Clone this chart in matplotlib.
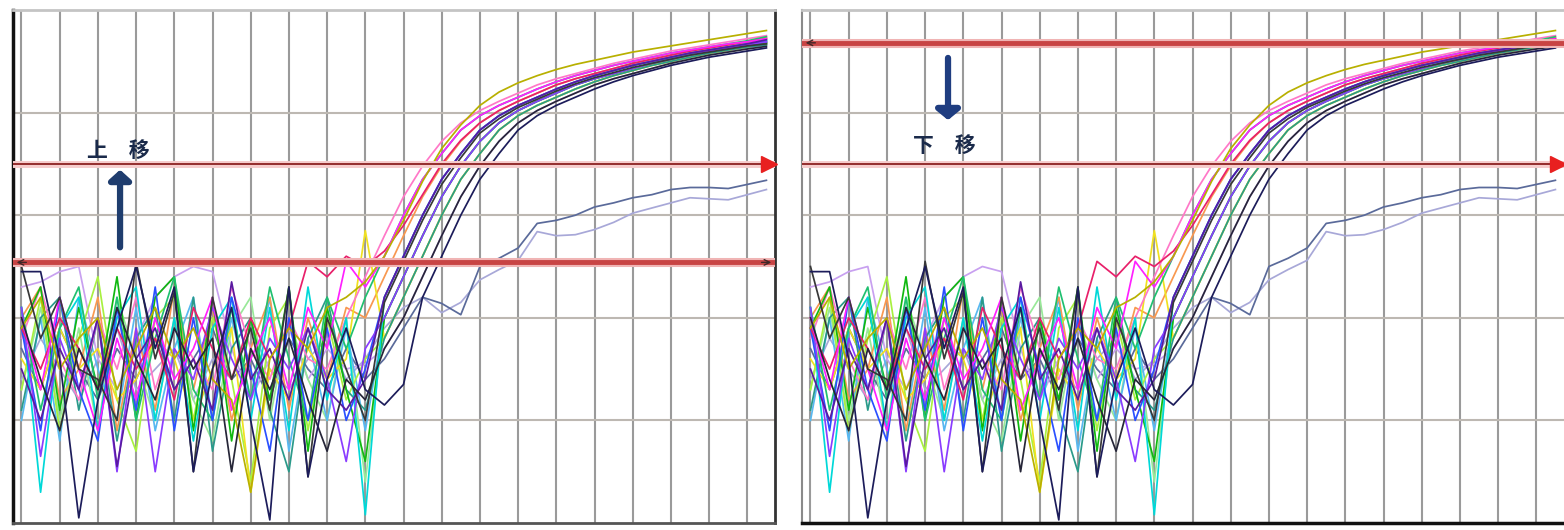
import matplotlib
matplotlib.use("Agg")
import matplotlib.pyplot as plt

plt.rcParams['font.family'] = ['Noto Sans CJK SC', 'DejaVu Sans']

# cycle numbers (x axis)
cycles = list(range(1, 41))

# amplification curves, fluorescence in grid units (0..5)
c01 = [2.45, 2.45, 1.6, 0.05, 1.2, 1.9, 2.5, 1.7, 2.3, 0.5,
       1.5, 2.1, 1.0, 0.03, 2.3, 0.45, 1.4, 1.9, 1.3, 1.15,
       1.35, 2.2, 2.6, 3.0, 3.35, 3.6, 3.83, 3.97, 4.07, 4.15,
       4.23, 4.3, 4.36, 4.41, 4.46, 4.5, 4.54, 4.57, 4.6, 4.63]
c02 = [1.9, 2.2, 1.5, 1.8, 2.0, 1.3, 1.7, 2.1, 1.6, 1.9,
       1.4, 1.2, 0.3, 1.6, 1.9, 1.7, 2.1, 2.2, 2.35, 2.6,
       2.95, 3.33, 3.65, 3.88, 4.07, 4.2, 4.29, 4.36, 4.42, 4.47,
       4.51, 4.55, 4.59, 4.62, 4.65, 4.68, 4.71, 4.74, 4.77, 4.8]
c03 = [2.0, 1.3, 2.2, 1.5, 0.9, 1.8, 1.2, 2.0, 1.4, 1.7,
       2.2, 1.1, 1.6, 2.0, 1.3, 2.1, 1.7, 2.55, 2.3, 2.6,
       3.0, 3.35, 3.6, 3.83, 3.97, 4.07, 4.15, 4.23, 4.3, 4.36,
       4.41, 4.46, 4.5, 4.54, 4.58, 4.61, 4.64, 4.67, 4.69, 4.72]
c04 = [1.9, 2.3, 1.1, 2.1, 1.3, 2.4, 1.0, 2.2, 2.4, 0.9,
       2.2, 0.8, 2.0, 1.2, 2.3, 0.7, 2.1, 1.3, 0.6, 2.0,
       2.4, 2.8, 3.18, 3.48, 3.72, 3.9, 4.02, 4.11, 4.19, 4.27,
       4.33, 4.38, 4.43, 4.48, 4.52, 4.56, 4.6, 4.63, 4.66, 4.68]
c05 = [2.1, 0.3, 1.9, 2.2, 0.9, 2.0, 2.3, 1.0, 2.0, 0.8,
       1.9, 2.2, 1.0, 2.1, 0.9, 2.3, 1.2, 2.0, 0.08, 2.2,
       2.6, 3.0, 3.35, 3.6, 3.83, 3.97, 4.07, 4.15, 4.23, 4.3,
       4.36, 4.41, 4.46, 4.5, 4.54, 4.58, 4.61, 4.64, 4.67, 4.7]
c06 = [2.1, 0.65, 1.8, 1.3, 2.0, 0.5, 1.9, 0.5, 1.7, 1.4,
       2.1, 1.6, 1.2, 1.8, 1.5, 1.9, 1.4, 0.6, 1.7, 2.0,
       2.4, 2.8, 3.18, 3.48, 3.72, 3.9, 4.02, 4.11, 4.19, 4.27,
       4.33, 4.38, 4.43, 4.48, 4.52, 4.56, 4.6, 4.63, 4.66, 4.69]
c07 = [1.8, 2.3, 1.6, 1.2, 2.0, 1.5, 2.2, 1.3, 1.9, 1.6,
       1.3, 2.3, 1.7, 1.4, 2.0, 1.6, 1.5, 2.0, 2.4, 2.8,
       3.18, 3.48, 3.72, 3.9, 4.02, 4.11, 4.19, 4.27, 4.33, 4.38,
       4.43, 4.48, 4.52, 4.56, 4.6, 4.63, 4.66, 4.69, 4.72, 4.75]
c08 = [1.3, 2.2, 0.9, 1.8, 2.4, 1.2, 0.7, 2.0, 2.2, 1.0,
       2.0, 1.4, 0.4, 1.9, 2.2, 0.9, 2.0, 1.2, 1.6, 1.8,
       2.2, 2.6, 3.0, 3.35, 3.6, 3.83, 3.97, 4.07, 4.15, 4.23,
       4.3, 4.36, 4.41, 4.46, 4.5, 4.54, 4.58, 4.61, 4.64, 4.67]
c09 = [1.9, 0.9, 2.2, 1.3, 0.8, 2.1, 1.1, 2.3, 0.9, 2.0,
       1.0, 2.2, 1.5, 0.7, 2.0, 1.0, 1.9, 1.0, 1.5, 2.2,
       2.6, 3.0, 3.35, 3.6, 3.83, 3.97, 4.07, 4.15, 4.23, 4.3,
       4.36, 4.41, 4.46, 4.5, 4.54, 4.58, 4.61, 4.64, 4.67, 4.69]
c10 = [2.5, 1.8, 2.2, 1.5, 1.4, 1.0, 2.55, 1.6, 2.25, 0.5,
       2.2, 1.4, 1.9, 1.1, 2.3, 0.45, 2.0, 1.5, 1.0, 2.15,
       2.55, 2.95, 3.3, 3.56, 3.8, 3.94, 4.05, 4.13, 4.21, 4.28,
       4.34, 4.39, 4.44, 4.48, 4.52, 4.56, 4.59, 4.62, 4.65, 4.67]
c11 = [1.1, 2.0, 2.2, 1.1, 2.0, 0.8, 1.8, 2.1, 1.0, 2.2,
       0.7, 1.7, 2.0, 1.1, 0.5, 1.8, 2.2, 1.3, 1.1, 1.8,
       2.2, 2.6, 3.0, 3.35, 3.6, 3.83, 3.97, 4.07, 4.15, 4.23,
       4.3, 4.36, 4.41, 4.46, 4.5, 4.54, 4.58, 4.61, 4.64, 4.66]
c12 = [1.9, 1.5, 2.0, 1.7, 1.3, 1.9, 1.5, 1.8, 1.2, 2.1,
       1.7, 1.4, 2.0, 1.6, 1.9, 2.55, 2.4, 2.6, 2.5, 2.65,
       2.9, 3.2, 3.5, 3.73, 3.9, 4.02, 4.11, 4.19, 4.27, 4.33,
       4.38, 4.43, 4.48, 4.52, 4.56, 4.6, 4.63, 4.66, 4.69, 4.72]
c13 = [1.0, 2.0, 0.8, 2.2, 1.5, 1.0, 2.1, 0.9, 1.7, 2.2,
       1.0, 2.0, 1.2, 2.2, 0.7, 1.8, 1.0, 1.9, 0.9, 2.0,
       2.4, 2.8, 3.18, 3.48, 3.72, 3.9, 4.02, 4.11, 4.19, 4.27,
       4.33, 4.38, 4.43, 4.48, 4.52, 4.56, 4.6, 4.63, 4.66, 4.68]
c14 = [2.0, 2.3, 1.2, 1.5, 2.2, 0.9, 1.9, 1.1, 2.3, 1.3,
       2.1, 1.0, 1.7, 2.2, 1.1, 2.0, 1.4, 2.1, 2.0, 2.4,
       2.8, 3.18, 3.48, 3.72, 3.9, 4.02, 4.11, 4.19, 4.27, 4.33,
       4.38, 4.43, 4.48, 4.52, 4.56, 4.6, 4.63, 4.66, 4.69, 4.73]
c15 = [2.3, 2.35, 2.45, 2.5, 1.6, 1.3, 1.8, 2.2, 2.4, 2.5,
       2.45, 1.7, 1.2, 1.6, 1.9, 1.4, 1.7, 1.5, 1.55, 1.7,
       2.0, 2.4, 2.8, 3.18, 3.48, 3.72, 3.9, 4.02, 4.11, 4.19,
       4.27, 4.33, 4.38, 4.43, 4.48, 4.52, 4.56, 4.6, 4.63, 4.66]
c16 = [1.5, 1.0, 1.7, 1.3, 2.0, 0.55, 1.6, 1.9, 1.3, 1.6,
       1.1, 2.35, 1.4, 1.7, 1.2, 1.9, 1.3, 1.1, 1.4, 2.2,
       2.6, 3.0, 3.35, 3.6, 3.83, 3.97, 4.07, 4.15, 4.23, 4.3,
       4.36, 4.41, 4.46, 4.5, 4.54, 4.58, 4.61, 4.64, 4.67, 4.71]
c17 = [1.6, 1.3, 1.9, 1.5, 1.7, 1.2, 1.4, 1.8, 1.6, 1.0,
       1.5, 1.9, 0.3, 1.5, 1.2, 1.7, 1.4, 1.6, 2.85, 1.8,
       2.2, 2.6, 3.0, 3.35, 3.6, 3.83, 3.97, 4.07, 4.15, 4.23,
       4.3, 4.36, 4.41, 4.46, 4.5, 4.54, 4.58, 4.61, 4.64, 4.68]
c18 = [2.1, 1.1, 1.9, 2.3, 1.2, 2.2, 1.0, 1.8, 2.4, 1.3,
       1.0, 2.1, 1.2, 2.3, 1.6, 1.0, 2.2, 1.7, 2.2, 2.6,
       3.0, 3.35, 3.6, 3.83, 3.97, 4.07, 4.15, 4.23, 4.3, 4.36,
       4.41, 4.46, 4.5, 4.54, 4.58, 4.61, 4.64, 4.67, 4.7, 4.74]
c19 = [2.0, 1.4, 0.9, 1.7, 1.3, 2.1, 1.6, 1.2, 1.9, 1.5,
       1.8, 0.5, 1.7, 1.3, 1.8, 1.2, 0.7, 1.4, 1.2, 1.7,
       2.0, 2.4, 2.8, 3.18, 3.48, 3.72, 3.9, 4.02, 4.11, 4.19,
       4.27, 4.33, 4.38, 4.43, 4.48, 4.52, 4.56, 4.59, 4.62, 4.645]
c20 = [1.3, 2.1, 1.0, 1.9, 0.9, 2.2, 1.6, 1.0, 2.0, 1.2,
       0.8, 1.9, 2.2, 1.0, 2.0, 1.4, 1.0, 2.0, 0.4, 2.0,
       2.4, 2.8, 3.18, 3.48, 3.72, 3.9, 4.02, 4.11, 4.19, 4.27,
       4.33, 4.38, 4.43, 4.48, 4.52, 4.56, 4.6, 4.63, 4.66, 4.7]
# two late samples that never reach the plateau
late_a = [1.7, 1.3, 1.9, 1.5, 1.2, 1.7, 1.4, 1.8, 1.3, 1.6,
          1.9, 1.4, 1.6, 1.2, 1.8, 1.5, 1.3, 1.7, 1.4, 1.6,
          1.9, 2.2, 2.14, 2.03, 2.5, 2.58, 2.68, 2.92, 2.95, 3.0,
          3.08, 3.12, 3.17, 3.2, 3.25, 3.27, 3.27, 3.26, 3.3, 3.34]
late_b = [1.4, 1.8, 1.5, 1.2, 1.6, 1.9, 1.3, 1.5, 1.7, 1.2,
          1.6, 1.4, 1.9, 1.5, 1.3, 1.6, 1.8, 1.4, 1.6, 1.9,
          2.1, 2.2, 2.05, 2.15, 2.37, 2.47, 2.56, 2.84, 2.8, 2.81,
          2.86, 2.93, 3.02, 3.07, 3.12, 3.17, 3.16, 3.15, 3.2, 3.25]

threshold = 3.5          # thin red line, same in both panels
baseline_left = 2.54     # thick red line before moving up
baseline_right = 4.68    # thick red line after moving down

curves = [
    (late_b, '#a8a8d8'), (late_a, '#5a6a9a'),
    (c15, '#c8a0f0'), (c20, '#98e898'), (c13, '#58b8f0'), (c14, '#f89850'),
    (c08, '#a8f040'), (c17, '#f0e020'), (c11, '#2a9a8a'), (c07, '#ff78c8'),
    (c04, '#10b810'), (c05, '#00d8d8'), (c18, '#20c070'), (c09, '#2a50ff'),
    (c06, '#8a3cff'), (c12, '#e8206a'), (c03, '#ff20ff'), (c16, '#5a1aa0'),
    (c02, '#b8b000'), (c10, '#383838'), (c19, '#262638'), (c01, '#1c1c5a'),
]


def draw_panel(ax, base_y):
    ax.set_xlim(0.555, 40.45)
    ax.set_ylim(0, 5)
    for c in range(1, 40, 2):
        ax.axvline(c, color='#9a9a9a', lw=1.5, zorder=1)
    for v in [1, 2, 3, 4]:
        ax.axhline(v, color='#bdb8b2', lw=1.5, zorder=1)
    for vals, col in curves:
        ax.plot(cycles, vals, color=col, lw=1.25, zorder=2)
    # threshold line
    ax.axhline(threshold, color='#f6cccc', lw=5, zorder=3)
    ax.axhline(threshold, color='#8c2020', lw=1.3, zorder=4)
    ax.plot([40.15], [threshold], marker='>', color='#e82020', ms=11,
            zorder=5, clip_on=False)
    # thick baseline line
    ax.axhline(base_y, color='#f0b4b4', lw=6.5, zorder=3)
    ax.axhline(base_y, color='#c84444', lw=3.5, zorder=4)
    ax.annotate('', xy=(0.6, base_y), xytext=(1.4, base_y),
                arrowprops=dict(arrowstyle='->', color='#402828', lw=1.0),
                zorder=5)
    ax.set_xticks([])
    ax.set_yticks([])


fig = plt.figure(figsize=(15.64, 5.30), dpi=100)
ax1 = fig.add_axes([13 / 1564, 7 / 530, 762 / 1564, 513 / 530])
ax2 = fig.add_axes([802 / 1564, 7 / 530, 762 / 1564, 513 / 530])

draw_panel(ax1, baseline_left)
ax1.annotate('', xy=(40.4, baseline_left), xytext=(39.6, baseline_left),
             arrowprops=dict(arrowstyle='->', color='#402828', lw=1.0), zorder=5)
ax1.annotate('', xy=(6.16, 3.47), xytext=(6.16, 2.66),
             arrowprops=dict(arrowstyle='-|>,head_width=0.5,head_length=0.45',
                             lw=4.5, color='#1f3d6e', mutation_scale=13), zorder=6)
ax1.text(6.06, 3.63, '上\u3000移', fontsize=15, fontweight='bold',
         color='#1a2a4a', ha='center', va='center', zorder=6)

draw_panel(ax2, baseline_right)
ax2.annotate('', xy=(8.2, 3.9), xytext=(8.2, 4.56),
             arrowprops=dict(arrowstyle='-|>,head_width=0.55,head_length=0.45',
                             lw=4.5, color='#1f3d80', mutation_scale=13), zorder=6)
ax2.text(7.99, 3.68, '下\u3000移', fontsize=15, fontweight='bold',
         color='#1a2a4a', ha='center', va='center', zorder=6)

for sp, col, w in [('left', '#111111', 2.5), ('bottom', '#555555', 2),
                   ('right', '#333333', 2), ('top', '#c4c4c4', 2)]:
    ax1.spines[sp].set_color(col)
    ax1.spines[sp].set_linewidth(w)
for sp, col, w in [('left', '#8a8a8a', 1.5), ('bottom', '#111111', 2.5),
                   ('top', '#c4c4c4', 2)]:
    ax2.spines[sp].set_color(col)
    ax2.spines[sp].set_linewidth(w)
ax2.spines['right'].set_visible(False)

fig.savefig('out.png', dpi=100)
